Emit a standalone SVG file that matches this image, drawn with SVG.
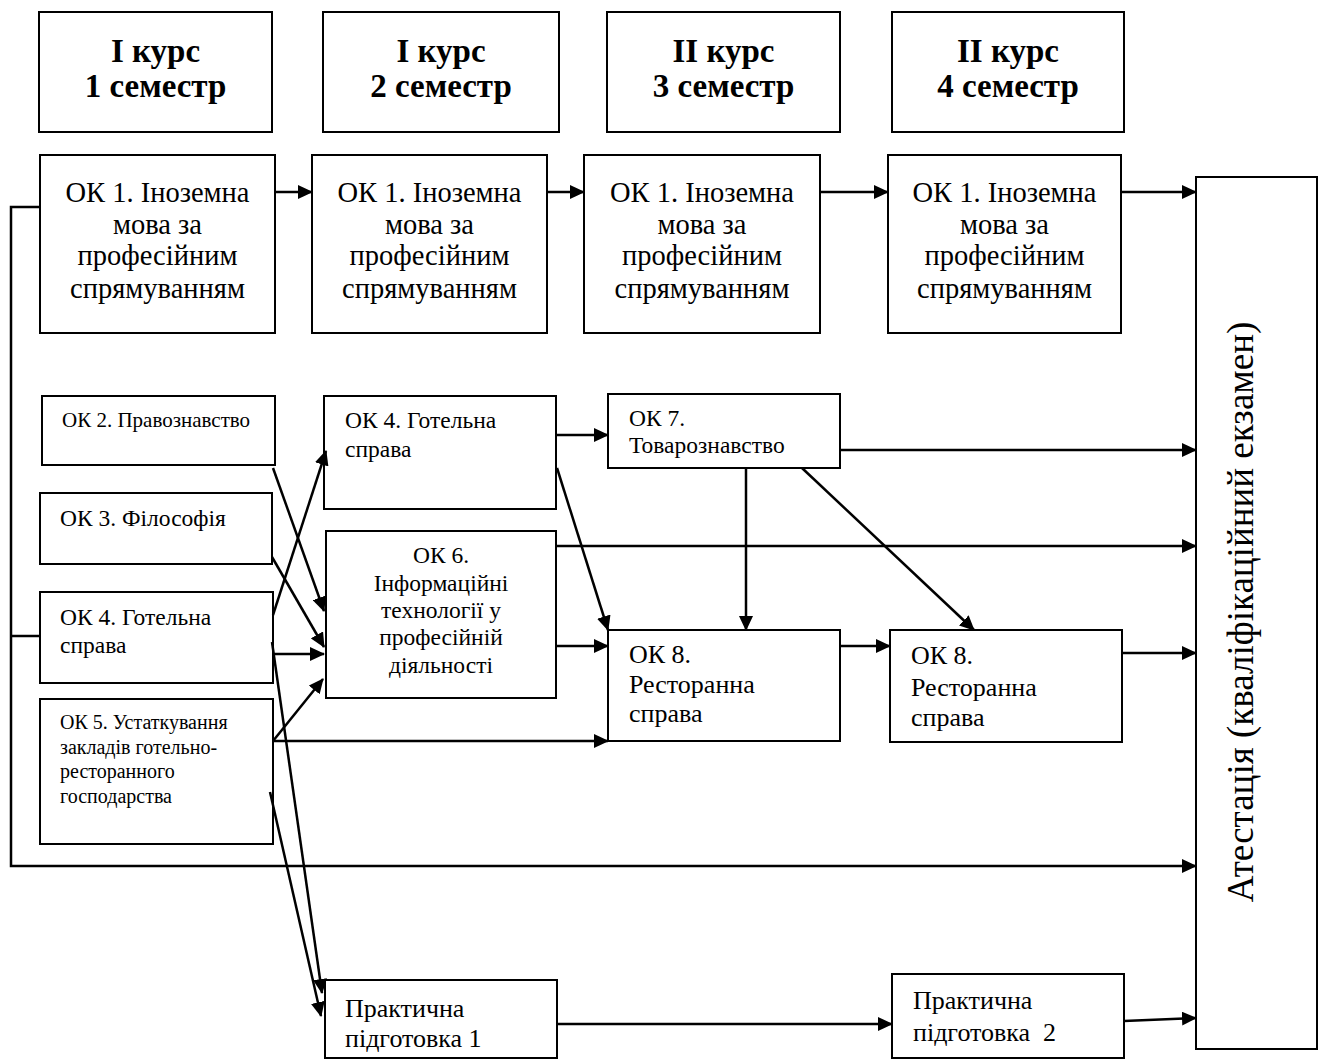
<svg xmlns="http://www.w3.org/2000/svg" width="1319" height="1059" viewBox="0 0 1319 1059">
<defs>
<style>
.box{fill:#fff;stroke:#000;stroke-width:2}
.con{fill:none;stroke:#000;stroke-width:2.5}
.arr{marker-end:url(#ah)}
text{font-family:"Liberation Serif","Times New Roman",serif;fill:#000}
.hd{font-size:33px;font-weight:bold;text-anchor:middle}
.k1{font-size:28.5px;text-anchor:middle}
.s21{font-size:21px}
.s23{font-size:23.5px}
.s20{font-size:20px}
.s26{font-size:26px}
.mid{text-anchor:middle}
</style>
<marker id="ah" viewBox="0 0 15 14" refX="14" refY="7" markerWidth="15" markerHeight="14" markerUnits="userSpaceOnUse" orient="auto">
<path d="M0,0 L15,7 L0,14 z" fill="#000"/>
</marker>
</defs>
<rect width="1319" height="1059" fill="#fff"/>

<g id="h1"><rect class="box" x="39" y="12" width="233" height="120"/><text class="hd" x="155.5" y="62">І курс</text><text class="hd" x="155.5" y="97">1 семестр</text></g>
<g id="h2"><rect class="box" x="323" y="12" width="236" height="120"/><text class="hd" x="441" y="62">І курс</text><text class="hd" x="441" y="97">2 семестр</text></g>
<g id="h3"><rect class="box" x="607" y="12" width="233" height="120"/><text class="hd" x="723.5" y="62">ІІ курс</text><text class="hd" x="723.5" y="97">3 семестр</text></g>
<g id="h4"><rect class="box" x="892" y="12" width="232" height="120"/><text class="hd" x="1008" y="62">ІІ курс</text><text class="hd" x="1008" y="97">4 семестр</text></g>

<g id="ok1a"><rect class="box" x="40" y="155" width="235" height="178"/><text class="k1" x="157.5" y="202">ОК 1. Іноземна</text><text class="k1" x="157.5" y="234">мова за</text><text class="k1" x="157.5" y="265">професійним</text><text class="k1" x="157.5" y="298">спрямуванням</text></g>
<g id="ok1b"><rect class="box" x="312" y="155" width="235" height="178"/><text class="k1" x="429.5" y="202">ОК 1. Іноземна</text><text class="k1" x="429.5" y="234">мова за</text><text class="k1" x="429.5" y="265">професійним</text><text class="k1" x="429.5" y="298">спрямуванням</text></g>
<g id="ok1c"><rect class="box" x="584" y="155" width="236" height="178"/><text class="k1" x="702" y="202">ОК 1. Іноземна</text><text class="k1" x="702" y="234">мова за</text><text class="k1" x="702" y="265">професійним</text><text class="k1" x="702" y="298">спрямуванням</text></g>
<g id="ok1d"><rect class="box" x="888" y="155" width="233" height="178"/><text class="k1" x="1004.5" y="202">ОК 1. Іноземна</text><text class="k1" x="1004.5" y="234">мова за</text><text class="k1" x="1004.5" y="265">професійним</text><text class="k1" x="1004.5" y="298">спрямуванням</text></g>

<g id="att"><rect class="box" x="1196" y="177" width="121" height="872"/><text transform="translate(1253 612) rotate(-90)" text-anchor="middle" font-size="37">Атестація (кваліфікаційний екзамен)</text></g>

<g id="ok2"><rect class="box" x="42" y="396" width="233" height="69"/><text class="s21" x="62" y="427">ОК 2. Правознавство</text></g>
<g id="ok3"><rect class="box" x="40" y="493" width="232" height="71"/><text class="s23" x="60" y="526">ОК 3. Філософія</text></g>
<g id="ok4l"><rect class="box" x="40" y="592" width="233" height="91"/><text class="s23" x="60" y="625">ОК 4. Готельна</text><text class="s23" x="60" y="653">справа</text></g>
<g id="ok5"><rect class="box" x="40" y="699" width="233" height="145"/><text class="s20" x="60" y="729">ОК 5. Устаткування</text><text class="s20" x="60" y="754">закладів готельно-</text><text class="s20" x="60" y="778">ресторанного</text><text class="s20" x="60" y="803">господарства</text></g>

<g id="ok4m"><rect class="box" x="324" y="396" width="232" height="113"/><text class="s23" x="345" y="428">ОК 4. Готельна</text><text class="s23" x="345" y="457">справа</text></g>
<g id="ok6"><rect class="box" x="326" y="531" width="230" height="167"/><text class="s23 mid" x="441" y="563">ОК 6.</text><text class="s23 mid" x="441" y="591">Інформаційні</text><text class="s23 mid" x="441" y="618">технології у</text><text class="s23 mid" x="441" y="645">професійній</text><text class="s23 mid" x="441" y="673">діяльності</text></g>
<g id="ok7"><rect class="box" x="608" y="394" width="232" height="74"/><text class="s23" x="629" y="425.5">ОК 7.</text><text class="s23" x="629" y="452.5">Товарознавство</text></g>
<g id="ok8a"><rect class="box" x="608" y="630" width="232" height="111"/><text class="s26" x="629" y="663">ОК 8.</text><text class="s26" x="629" y="693">Ресторанна</text><text class="s26" x="629" y="722">справа</text></g>
<g id="ok8b"><rect class="box" x="890" y="630" width="232" height="112"/><text class="s26" x="911" y="664">ОК 8.</text><text class="s26" x="911" y="696">Ресторанна</text><text class="s26" x="911" y="726">справа</text></g>
<g id="p1"><rect class="box" x="325" y="980" width="232" height="78"/><text class="s26" x="345" y="1017">Практична</text><text class="s26" x="345" y="1047">підготовка 1</text></g>
<g id="p2"><rect class="box" x="892" y="974" width="232" height="84"/><text class="s26" x="913" y="1009">Практична</text><text class="s26" x="913" y="1041" xml:space="preserve">підготовка  2</text></g>

<g id="connectors">
<line class="con arr" x1="275" y1="192" x2="312" y2="192"/>
<line class="con arr" x1="547" y1="192" x2="584" y2="192"/>
<line class="con arr" x1="820" y1="192" x2="888" y2="192"/>
<line class="con arr" x1="1121" y1="192" x2="1196" y2="192"/>
<line class="con arr" x1="556" y1="435" x2="608" y2="435"/>
<line class="con arr" x1="840" y1="450" x2="1196" y2="450"/>
<line class="con arr" x1="556" y1="546" x2="1196" y2="546"/>
<line class="con arr" x1="556" y1="646" x2="608" y2="646"/>
<line class="con arr" x1="557" y1="468" x2="608" y2="630"/>
<line class="con arr" x1="746" y1="468" x2="746" y2="630"/>
<line class="con arr" x1="802" y1="468" x2="974" y2="630"/>
<line class="con arr" x1="840" y1="646" x2="890" y2="646"/>
<line class="con arr" x1="1122" y1="653" x2="1196" y2="653"/>
<path class="con arr" d="M40,207 H11 V866 H1196"/>
<path class="con" d="M11,636 H40"/>
<line class="con arr" x1="557" y1="1024" x2="892" y2="1024"/>
<line class="con arr" x1="1124" y1="1021" x2="1196" y2="1018"/>
<line class="con arr" x1="273" y1="468" x2="324" y2="611"/>
<line class="con arr" x1="272" y1="557" x2="324" y2="647"/>
<line class="con arr" x1="273" y1="615" x2="326" y2="451"/>
<line class="con arr" x1="273" y1="654" x2="324" y2="654"/>
<line class="con arr" x1="273" y1="741" x2="323" y2="679"/>
<line class="con arr" x1="273" y1="741" x2="608" y2="741"/>
<line class="con arr" x1="272" y1="642" x2="322" y2="993"/>
<line class="con arr" x1="270" y1="792" x2="321" y2="1016"/>
</g>
</svg>
